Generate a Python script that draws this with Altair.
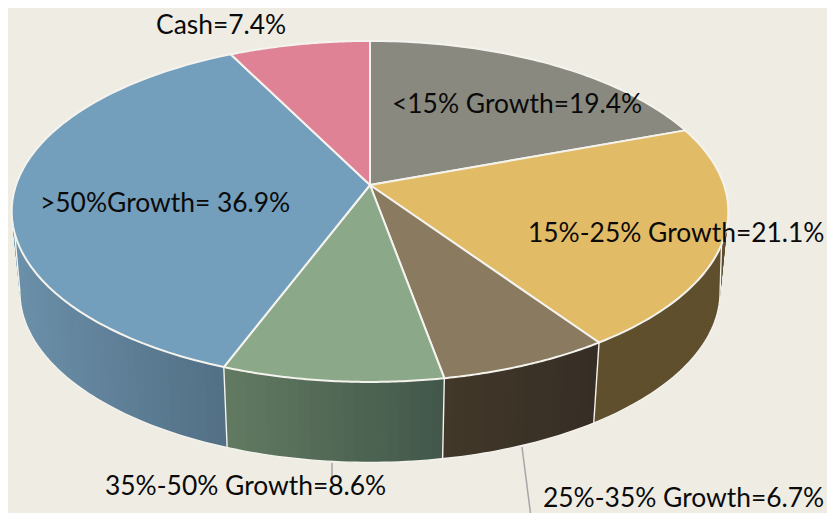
import math
import altair as alt

# Chart data, clockwise from 12 o'clock
categories = ["<15% Growth", "15%-25% Growth", "25%-35% Growth", "35%-50% Growth", ">50%Growth", "Cash"]
shares = [19.4, 21.1, 6.7, 8.6, 36.9, 7.4]
top_colors = ["#89897F", "#E2BB66", "#8A7A60", "#8BA888", "#749FBC", "#E08296"]
side_left = ["#5A5A50", "#5F4F2D", "#423829", "#627A62", "#6B90A9", "#90505F"]
side_right = ["#5A5A50", "#5F4F2D", "#362E26", "#42574A", "#516E84", "#90505F"]
label_texts = ["<15% Growth=19.4%", "15%-25% Growth=21.1%", "25%-35% Growth=6.7%",
               "35%-50% Growth=8.6%", ">50%Growth= 36.9%", "Cash=7.4%"]
label_x = [392, 528, 543, 105, 40, 156]
label_y = [113, 242, 507, 495, 212, 34]

BG = "#EFECE4"
EDGE = "#F4F3EE"
FONT = "Lato"
FS = 26.4
CX, CY, A, B, K = 370.0, 185.0, 354.0, 166.4, 0.155
DEPTH, SHRINK = 80.5, 0.977


def rim(share_pos, low=False):
    """Project a position on the pie (share of the circle) to the tilted plane."""
    t = 2 * math.pi * share_pos
    u, v = math.sin(t), math.cos(t)
    w = 1 + K * v
    x, y = A * u / w, -B * v / w
    if low:
        return [CX + SHRINK * x, CY + y + DEPTH]
    return [CX + x, CY + y]


def mix(c1, c2, f):
    a = [int(c1[i:i + 2], 16) for i in (1, 3, 5)]
    b = [int(c2[i:i + 2], 16) for i in (1, 3, 5)]
    return "#%02X%02X%02X" % tuple(round(p + (q - p) * f) for p, q in zip(a, b))


def feature(kind, coords, color):
    return {"type": "Feature", "properties": {"c": color},
            "geometry": {"type": kind, "coordinates": coords}}


total = sum(shares)
cum = [0.0]
for s in shares:
    cum.append(cum[-1] + s / total)

side, tops, edges = [], [], []
for i in range(len(shares)):
    a0, a1 = cum[i], cum[i + 1]
    n = max(6, int((a1 - a0) * 240))
    step = (a1 - a0) / n
    xs = [rim(a0 + step * j)[0] for j in range(n + 1)]
    xmin, xmax = min(xs), max(xs)
    for j in range(n):
        p0 = a0 + step * j
        p1 = min(a1, p0 + 2.5 * step)   # overlaps the next strip so no seam shows
        tp, tq = rim(p0), rim(p1)
        lp, lq = rim(p0, True), rim(p1, True)
        if tp[1] < CY and tq[1] < CY:
            continue
        f = (rim(p0 + step / 2)[0] - xmin) / max(xmax - xmin, 1)
        mid = (p0 + p1) / 2
        poly = [tp, rim(mid), tq, lq, rim(mid, True), lp, tp]
        side.append(feature("Polygon", [poly[::-1]], mix(side_left[i], side_right[i], f)))
    arc = [rim(a0 + (a1 - a0) * j / 60) for j in range(61)]
    tops.append(feature("Polygon", [[[CX, CY]] + arc + [[CX, CY]]], top_colors[i]))

# white seams on the side wall and along its lower rim
for i in range(2, 6):
    edges.append(feature("LineString", [rim(cum[i]), rim(cum[i], True)], EDGE))
lower = [rim(0.275 + j * (0.725 - 0.275) / 160, True) for j in range(161)]
edges.append(feature("LineString", lower, EDGE))
edges.append(feature("LineString", [rim(0.275, True), rim(0.305)], EDGE))
edges.append(feature("LineString", [rim(0.725, True), rim(0.705)], EDGE))

PROJ = dict(type="identity", scale=1, translate=[-8, -8])

side_layer = (alt.Chart(alt.Data(values=side)).mark_geoshape(strokeWidth=0)
              .encode(fill=alt.Fill("properties.c:N", scale=None))
              .project(**PROJ))
seams = (alt.Chart(alt.Data(values=edges)).mark_geoshape(filled=False, strokeWidth=1.4, stroke=EDGE)
         .project(**PROJ))
top_layer = (alt.Chart(alt.Data(values=tops)).mark_geoshape(stroke=EDGE, strokeWidth=2, strokeJoin="round")
             .encode(fill=alt.Fill("properties.c:N", scale=None))
             .project(**PROJ))

leaders = [
    alt.Chart(alt.Data(values=[{"a": 1}])).mark_rule(color="#A6A6A6", strokeWidth=1.5).encode(
        x=alt.value(x0 - 8), y=alt.value(y0 - 8), x2=alt.value(x1 - 8), y2=alt.value(y1 - 8))
    for x0, y0, x1, y1 in [(332, 463, 332, 477), (522, 447, 532, 525)]
]
labels = [
    alt.Chart(alt.Data(values=[{"t": t}])).mark_text(
        font=FONT, fontSize=FS, align="left", baseline="alphabetic", color="#0A0A0A"
    ).encode(x=alt.value(x - 8), y=alt.value(y - 8), text="t:N")
    for t, x, y in zip(label_texts, label_x, label_y)
]

chart = alt.layer(side_layer, seams, top_layer, *leaders, *labels).properties(
    width=819, height=505, background=BG, padding=0,
    autosize=alt.AutoSizeParams(type="none"),
).configure_view(stroke=None)

chart.save("out.html", embed_options={"renderer": "svg", "actions": False})
